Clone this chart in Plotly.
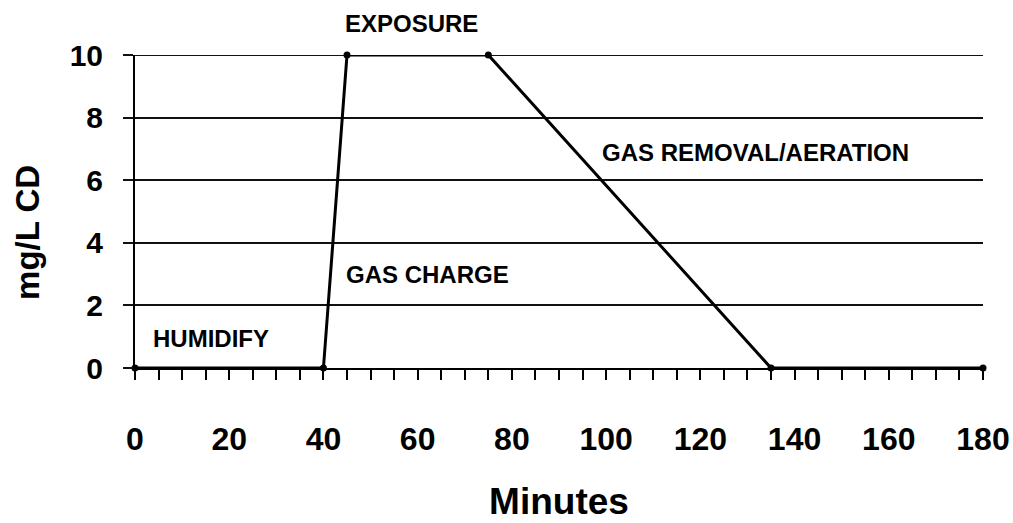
import plotly.graph_objects as go

# Sterilization cycle profile: chlorine dioxide concentration over time
minutes = [0, 40, 45, 75, 135, 180]
conc_mg_per_l = [0, 0, 10, 10, 0, 0]

phase_labels = ["HUMIDIFY", "GAS CHARGE", "GAS REMOVAL/AERATION"]
phase_x = [16.1, 62.0, 131.8]
phase_y = [0.93, 3.0, 6.87]

x_ticks = [0, 20, 40, 60, 80, 100, 120, 140, 160, 180]
y_ticks = [0, 2, 4, 6, 8, 10]

FONT = "Liberation Sans, Arial, sans-serif"
LABEL_FONT = dict(family=FONT, size=24, color="black", weight="bold")

fig = go.Figure()
fig.add_trace(go.Scatter(
    x=minutes, y=conc_mg_per_l, mode="lines+markers",
    line=dict(color="black", width=3),
    marker=dict(color="black", size=7),
    cliponaxis=False, showlegend=False,
))

for txt, xv, yv in zip(phase_labels, phase_x, phase_y):
    fig.add_annotation(x=xv, y=yv, text=txt, showarrow=False, font=LABEL_FONT,
                       xanchor="center", yanchor="middle")

# Phase label above the plateau sits outside the y range, so place it in paper space
fig.add_annotation(x=58.6, xref="x", y=1.102, yref="paper", text="EXPOSURE",
                   showarrow=False, font=LABEL_FONT, xanchor="center", yanchor="middle")

# Rotated y-axis title
fig.add_annotation(x=-0.1274, xref="paper", y=0.4345, yref="paper", text="mg/L CD",
                   textangle=-90, showarrow=False,
                   font=dict(family=FONT, size=33, color="black", weight="bold"),
                   xanchor="center", yanchor="middle")

fig.update_layout(
    width=1013, height=523,
    margin=dict(l=135, r=30, t=55, b=155, autoexpand=False),
    paper_bgcolor="white", plot_bgcolor="white",
    font=dict(family=FONT, color="black"),
)
fig.update_xaxes(
    range=[0, 180], tickvals=x_ticks, showgrid=False, zeroline=False,
    showline=True, linecolor="black", linewidth=2, automargin=False,
    ticks="outside", ticklen=10, tickwidth=2, tickcolor="black",
    minor=dict(dtick=5, ticks="outside", ticklen=10, tickwidth=2, tickcolor="black", showgrid=False),
    tickfont=dict(family=FONT, size=32, weight="bold"),
    ticklabelstandoff=32,
    title=dict(text="Minutes", font=dict(family=FONT, size=37, weight="bold"), standoff=32),
)
fig.update_yaxes(
    range=[0, 10], tickvals=y_ticks, showgrid=True, gridcolor="#111", gridwidth=2,
    zeroline=False, showline=True, linecolor="black", linewidth=2, automargin=False,
    ticks="outside", ticklen=10, tickwidth=2, tickcolor="#111",
    tickfont=dict(family=FONT, size=30, weight="bold"),
    ticklabelstandoff=14,
)
# Top gridline at 10 drawn as a plot-area edge line
fig.add_shape(type="line", xref="paper", yref="y", x0=0, x1=1, y0=10, y1=10,
              line=dict(color="#111", width=2), layer="below")

fig.write_html("out.html")
